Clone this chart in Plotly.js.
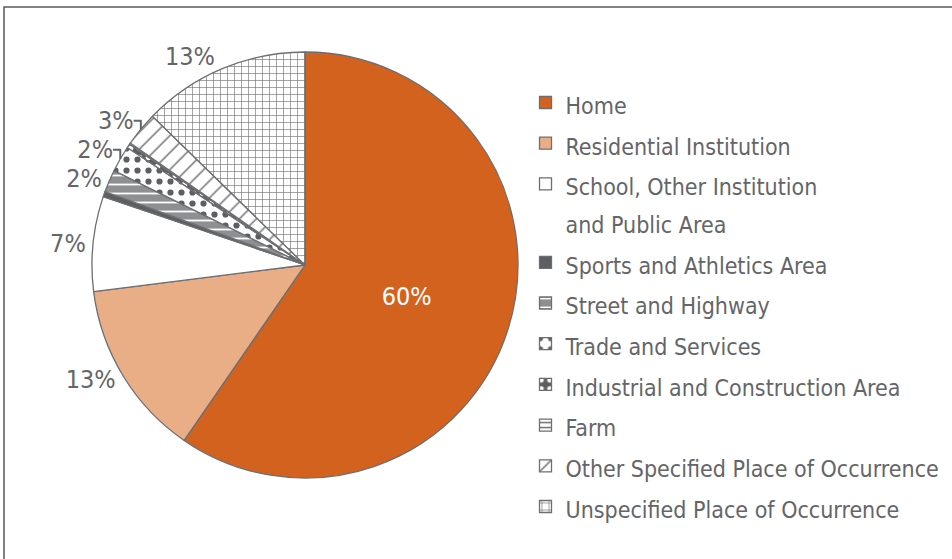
<!DOCTYPE html>
<html>
<head>
<meta charset="utf-8">
<script src="https://cdn.plot.ly/plotly-3.0.1.min.js"></script>
<style>
  html, body { margin: 0; padding: 0; background: #fff; }
  #display { width: 952px; height: 559px; }
</style>
</head>
<body>
<div id="display"></div>
<script>
// place of occurrence, share of cases (%)
let places = ['Home', 'Residential Institution', 'School, Other Institution<br>and Public Area',
  'Sports and Athletics Area', 'Street and Highway', 'Trade and Services',
  'Industrial and Construction Area', 'Farm', 'Other Specified Place of Occurrence',
  'Unspecified Place of Occurrence'];
let shares = [59.6, 13.4, 7.2, 0.4, 1.7, 2.0, 0.3, 0.1, 2.6, 12.7];

let fills = ['#d4621f', '#eaae86', '#ffffff', '#5d5e61', '#8e8f91', '#ffffff', '#5d5e61', '#ffffff', '#ffffff', '#ffffff'];
let shapes = ['', '', '', '', '-', '.', '.', '-', '/', '+'];
let inks = ['#5d5e61', '#5d5e61', '#5d5e61', '#5d5e61', '#ffffff', '#5d5e61', '#ffffff', '#6d6e71', '#6d6e71', '#6d6e71'];

let gray = '#646569';
let font = 'Liberation Sans Narrow, DejaVu Sans Condensed, Roboto, sans-serif';

let total = shares.reduce((a, b) => a + b, 0);
let pctText = shares.map(v => {
  let p = Math.round(v / total * 100);
  return p >= 1 ? p + '%' : '';
});
let legendNames = places.map(p => '<span style="font-size:23px">' + p + '</span>');

let pie = {
  type: 'pie',
  labels: legendNames,
  values: shares,
  text: pctText,
  textinfo: 'text',
  textposition: shares.map((v, i) => i === 0 ? 'inside' : 'outside'),
  insidetextorientation: 'horizontal',
  insidetextfont: {color: '#ffffff', size: 25, family: font},
  outsidetextfont: {color: gray, size: 25, family: font},
  sort: false,
  direction: 'clockwise',
  rotation: 0,
  hoverinfo: 'none',
  marker: {
    colors: fills,
    line: {color: '#6d6e71', width: 1.3},
    pattern: {
      shape: shapes, fgcolor: inks, bgcolor: fills, fillmode: 'replace',
      size: [8, 8, 8, 8, 9, 11, 9, 5, 12, 7],
      solidity: [0.3, 0.3, 0.3, 0.3, 0.2, 0.25, 0.3, 0.3, 0.12, 0.17]
    }
  },
  domain: {x: [0.0966, 0.5441], y: [0.1449, 0.907]}
};

let layout = {
  width: 952,
  height: 559,
  margin: {l: 0, r: 0, t: 0, b: 0},
  paper_bgcolor: '#ffffff',
  font: {family: font, color: gray},
  showlegend: true,
  legend: {
    x: 0.552, y: 0.455, xanchor: 'left', yanchor: 'middle',
    font: {size: 29, color: gray, family: font},
    valign: 'top',
    traceorder: 'normal'
  },
  shapes: [{
    type: 'rect', xref: 'paper', yref: 'paper',
    x0: 4 / 952, x1: 1.2, y0: -0.2, y1: 1 - 7 / 559,
    line: {color: '#58595b', width: 1.5}
  }]
};

Plotly.newPlot('display', [pie], layout, {displayModeBar: false});
</script>
</body>
</html>
